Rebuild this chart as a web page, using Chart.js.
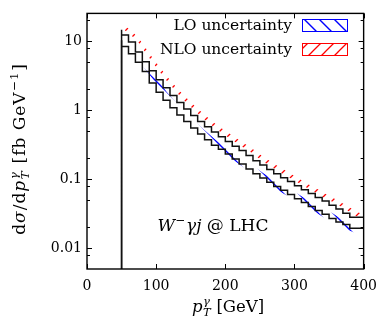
<!DOCTYPE html>
<html>
<head>
<meta charset="utf-8">
<script src="https://cdn.jsdelivr.net/npm/chart.js@4.4.0/dist/chart.umd.min.js"></script>
<style>
  html, body { margin: 0; padding: 0; background: #fff; }
  canvas { display: block; }
</style>
</head>
<body>
<canvas id="chart" width="386" height="321"></canvas>
<script>
// ********
// * Data *
// ********
const binEdges = [50, 60, 70, 80, 90, 100, 110, 120, 130, 140, 150, 160, 170, 180, 190, 200, 210, 220,
    230, 240, 250, 260, 270, 280, 290, 300, 310, 320, 330, 340, 350, 360, 370, 380, 390, 400];

const loCentral = [10.2, 8.3, 6.5, 4.9, 3.6, 2.45, 1.8, 1.38, 1.08, 0.85, 0.68, 0.55, 0.45, 0.37, 0.31,
    0.27, 0.23, 0.195, 0.165, 0.14, 0.12, 0.104, 0.090, 0.078, 0.069, 0.060, 0.052, 0.046, 0.040,
    0.035, 0.031, 0.027, 0.024, 0.022, 0.0195];
const nloCentral = [14.5, 12.2, 9.6, 6.9, 5.0, 3.7, 2.75, 2.1, 1.62, 1.28, 1.03, 0.83, 0.68, 0.57, 0.48,
    0.41, 0.35, 0.30, 0.26, 0.22, 0.185, 0.16, 0.138, 0.12, 0.105, 0.092, 0.080, 0.070, 0.062,
    0.054, 0.048, 0.042, 0.037, 0.032, 0.028];

// scale-variation bands
const loHigh = [10.4, 8.5, 6.6, 5.0, 3.67, 2.5, 1.84, 1.41, 1.1, 0.87, 0.694, 0.561, 0.459, 0.377, 0.316,
    0.275, 0.235, 0.199, 0.168, 0.143, 0.122, 0.106, 0.092, 0.080, 0.070, 0.061, 0.053, 0.047, 0.041,
    0.036, 0.032, 0.0275, 0.0245, 0.0224, 0.0199];
const loLow = [7.96, 6.47, 5.07, 3.82, 2.81, 1.91, 1.40, 1.08, 0.84, 0.66, 0.53, 0.43, 0.351, 0.289, 0.242,
    0.211, 0.179, 0.152, 0.129, 0.109, 0.094, 0.081, 0.070, 0.061, 0.054, 0.047, 0.041, 0.036, 0.031,
    0.027, 0.024, 0.021, 0.0187, 0.0172, 0.0152];
const nloHigh = [16.4, 13.8, 10.8, 7.8, 5.65, 4.18, 3.1, 2.37, 1.83, 1.45, 1.16, 0.94, 0.77, 0.64, 0.54,
    0.463, 0.395, 0.339, 0.294, 0.249, 0.209, 0.181, 0.156, 0.136, 0.119, 0.104, 0.090, 0.079, 0.070,
    0.061, 0.054, 0.047, 0.042, 0.036, 0.032];
const nloLow = [14.1, 11.8, 9.3, 6.7, 4.85, 3.59, 2.67, 2.04, 1.57, 1.24, 1.0, 0.805, 0.66, 0.553, 0.466,
    0.398, 0.34, 0.291, 0.252, 0.213, 0.179, 0.155, 0.134, 0.116, 0.102, 0.089, 0.078, 0.068, 0.060,
    0.052, 0.047, 0.041, 0.036, 0.031, 0.027];

const yTickValues = [0.01, 0.1, 1, 10];
const yTickLabels = ['0.01', '0.1', '1', '10'];
const yMinorSteps = [2, 5, 8];

const FONT = '"DejaVu Serif", serif';

// ***********
// * Helpers *
// ***********
const canvas = document.getElementById('chart');
const mainCtx = canvas.getContext('2d');

function hatch(color, size, forward, width) {
    const c = document.createElement('canvas');
    c.width = size;
    c.height = size;
    const g = c.getContext('2d');
    g.strokeStyle = color;
    g.lineWidth = width;
    g.beginPath();
    if (forward) { // '/'
        g.moveTo(-2, size + 2); g.lineTo(size + 2, -2);
        g.moveTo(-2, 2); g.lineTo(2, -2);
        g.moveTo(size - 2, size + 2); g.lineTo(size + 2, size - 2);
    } else { // '\'
        g.moveTo(-2, -2); g.lineTo(size + 2, size + 2);
        g.moveTo(size - 2, -2); g.lineTo(size + 2, 2);
        g.moveTo(-2, size - 2); g.lineTo(2, size + 2);
    }
    g.stroke();
    return mainCtx.createPattern(c, 'repeat');
}

const blueHatch = hatch('#0000ff', 15, false, 1.4);
const redHatch = hatch('#ff0000', 13, true, 1.3);

// histogram outline, starting from the bottom of the plot
function stepPoints(vals) {
    const pts = [{ x: binEdges[0], y: 1e-4 }];
    vals.forEach((v, i) => pts.push({ x: binEdges[i], y: v }));
    pts.push({ x: binEdges[binEdges.length - 1], y: vals[vals.length - 1] });
    return pts;
}

function centerPoints(vals) {
    return vals.map((v, i) => ({ x: (binEdges[i] + binEdges[i + 1]) / 2, y: v }));
}

function fontFor(size, italic) {
    return (italic ? 'italic ' : '') + size + 'px ' + FONT;
}

function partWidth(ctx, p, size) {
    if (p.t !== undefined) {
        ctx.font = fontFor(size, p.i);
        return ctx.measureText(p.t).width;
    }
    ctx.font = fontFor(size * 0.7, p.i);
    const a = p.sup ? ctx.measureText(p.sup).width : 0;
    const b = p.sub ? ctx.measureText(p.sub).width : 0;
    return Math.max(a, b) + 1;
}

function textWidth(ctx, parts, size) {
    return parts.reduce((w, p) => w + partWidth(ctx, p, size), 0);
}

function drawParts(ctx, parts, x, y, size) {
    ctx.textAlign = 'left';
    ctx.textBaseline = 'alphabetic';
    parts.forEach(p => {
        const w = partWidth(ctx, p, size);
        if (p.t !== undefined) {
            ctx.font = fontFor(size, p.i);
            ctx.fillText(p.t, x, y);
        } else {
            ctx.font = fontFor(size * 0.7, p.i);
            if (p.sup) ctx.fillText(p.sup, x + 0.5, y - size * 0.42);
            if (p.sub) ctx.fillText(p.sub, x + 0.5, y + size * 0.24);
        }
        x += w;
    });
}

const yTitle = [{ t: 'd' }, { t: 'σ', i: 1 }, { t: '/d' }, { t: 'p', i: 1 }, { sub: 'T', sup: 'γ', i: 1 },
    { t: ' [fb GeV' }, { sup: '−1' }, { t: ']' }];
const xTitle = [{ t: 'p', i: 1 }, { sub: 'T', sup: 'γ', i: 1 }, { t: ' [GeV]' }];
const process = [{ t: 'W', i: 1 }, { sup: '−' }, { t: 'γj', i: 1 }, { t: ' @ LHC' }];

// *********
// * Frame *
// *********
const framePlugin = {
    id: 'frame',
    afterDraw(chart) {
        const { ctx, chartArea: a, scales: { x, y } } = chart;
        ctx.save();
        ctx.strokeStyle = '#000';
        ctx.lineWidth = 1;
        ctx.beginPath();
        x.ticks.forEach(t => {
            const px = Math.round(x.getPixelForValue(t.value)) + 0.5;
            ctx.moveTo(px, a.bottom); ctx.lineTo(px, a.bottom - 5);
            ctx.moveTo(px, a.top); ctx.lineTo(px, a.top + 5);
        });
        yTickValues.forEach(v => {
            const py = Math.round(y.getPixelForValue(v)) + 0.5;
            ctx.moveTo(a.left, py); ctx.lineTo(a.left + 5, py);
            ctx.moveTo(a.right, py); ctx.lineTo(a.right - 5, py);
        });
        for (let k = -3; k <= 1; k++) {
            yMinorSteps.forEach(m => {
                const v = m * Math.pow(10, k);
                if (v <= y.min || v >= y.max) return;
                const py = Math.round(y.getPixelForValue(v)) + 0.5;
                ctx.moveTo(a.left, py); ctx.lineTo(a.left + 3, py);
                ctx.moveTo(a.right, py); ctx.lineTo(a.right - 3, py);
            });
        }
        ctx.stroke();
        ctx.lineWidth = 1.4;
        ctx.strokeRect(a.left, a.top, a.right - a.left, a.bottom - a.top);

        // legend
        ctx.fillStyle = '#000';
        ctx.font = fontFor(15.5, false);
        ctx.textAlign = 'right';
        ctx.textBaseline = 'middle';
        ctx.fillText('LO uncertainty', 292, 26);
        ctx.fillText('NLO uncertainty', 292, 50);
        ctx.lineWidth = 1;
        ctx.fillStyle = blueHatch;
        ctx.fillRect(302, 19, 46, 13);
        ctx.strokeStyle = '#0000ff';
        ctx.strokeRect(302.5, 19.5, 45, 12);
        ctx.fillStyle = redHatch;
        ctx.fillRect(302, 43, 46, 13);
        ctx.strokeStyle = '#ff0000';
        ctx.strokeRect(302.5, 43.5, 45, 12);

        // labels
        ctx.fillStyle = '#000';
        const pw = textWidth(ctx, process, 17);
        drawParts(ctx, process, 213 - pw / 2, 231, 17);

        const xw = textWidth(ctx, xTitle, 16.5);
        drawParts(ctx, xTitle, 228 - xw / 2, 312, 16.5);

        ctx.letterSpacing = '1px';
        const yw = textWidth(ctx, yTitle, 17);
        ctx.translate(25, 149);
        ctx.rotate(-Math.PI / 2);
        drawParts(ctx, yTitle, -yw / 2, 0, 17);
        ctx.restore();
    }
};

// *********
// * Chart *
// *********
const lineStyle = {
    stepped: 'after',
    borderColor: '#111',
    borderWidth: 1.5,
    pointRadius: 0,
    fill: false
};
const bandStyle = {
    borderColor: 'rgba(0,0,0,0)',
    borderWidth: 0,
    pointRadius: 0
};

new Chart(canvas, {
    type: 'line',
    data: {
        datasets: [
            { label: 'NLO', data: stepPoints(nloCentral), ...lineStyle },
            { label: 'LO', data: stepPoints(loCentral), ...lineStyle },
            { label: 'NLO uncertainty', data: centerPoints(nloHigh), fill: '+1', backgroundColor: redHatch, ...bandStyle },
            { label: 'NLO low', data: centerPoints(nloLow), fill: false, ...bandStyle },
            { label: 'LO uncertainty', data: centerPoints(loHigh), fill: '+1', backgroundColor: blueHatch, ...bandStyle },
            { label: 'LO low', data: centerPoints(loLow), fill: false, ...bandStyle }
        ]
    },
    options: {
        responsive: false,
        devicePixelRatio: 1,
        animation: false,
        events: [],
        layout: { padding: { top: 8, right: 19, left: 0, bottom: 0 } },
        plugins: {
            legend: { display: false },
            tooltip: { enabled: false }
        },
        scales: {
            x: {
                type: 'linear',
                min: 0,
                max: 400,
                grid: { display: false, drawTicks: false, tickLength: 0 },
                border: { display: false },
                ticks: {
                    stepSize: 100,
                    padding: 9,
                    color: '#000',
                    font: { family: FONT, size: 14 },
                    maxRotation: 0
                },
                afterFit: s => { s.height = 52; }
            },
            y: {
                type: 'logarithmic',
                min: 0.005,
                max: 25,
                grid: { display: false, drawTicks: false, tickLength: 0 },
                border: { display: false },
                afterBuildTicks: s => { s.ticks = yTickValues.map(v => ({ value: v })); },
                ticks: {
                    padding: 5,
                    color: '#000',
                    font: { family: FONT, size: 14 },
                    callback: (v, i) => yTickLabels[i]
                },
                afterFit: s => { s.width = 87; }
            }
        }
    },
    plugins: [framePlugin]
});
</script>
</body>
</html>
